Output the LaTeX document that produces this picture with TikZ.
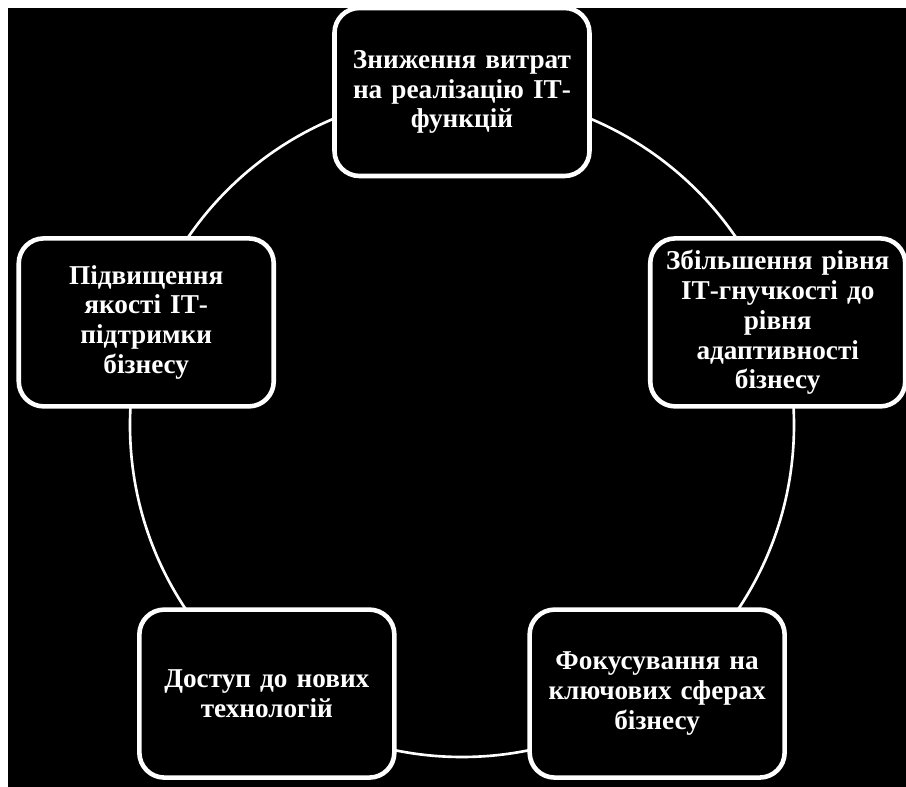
\documentclass[tikz,border=0pt]{standalone}
\usepackage{fontspec}
\setmainfont{Liberation Serif}
\usepackage{tikz}
\usetikzlibrary{positioning,calc}

\begin{document}
\begin{tikzpicture}[
    goalbox/.style={rectangle, rounded corners=0.5cm, draw=white, line width=2.6pt, fill=black,
        minimum width=5.1cm, minimum height=3.36cm, text width=4.8cm, align=center,
        text=white, font=\fontsize{15.5}{17}\selectfont\bfseries},
    ring/.style={draw=white, line width=1.5pt}
]
\useasboundingbox (-9.24,-7.24) rectangle (8.88,8.5);
\fill[black] (-9.08,-7.24) rectangle (8.88,8.34);

% cycle ring
\coordinate (c) at (0,0);
\draw[ring] (c) circle (6.64);

\node[goalbox] (cost) at (90:6.66) {Зниження витрат\\на реалізацію ІТ-\\функцій};
\node[goalbox] (agile) at (18:6.64) {Збільшення рівня\\ІТ-гнучкості до\\рівня\\адаптивності\\бізнесу};
\node[goalbox] (focus) at (-54:6.64) {Фокусування на\\ключових сферах\\бізнесу};
\node[goalbox] (tech) at (234:6.64) {Доступ до нових\\технологій};
\node[goalbox] (quality) at (162:6.64) {Підвищення\\якості ІТ-\\підтримки\\бізнесу};
\end{tikzpicture}
\end{document}
